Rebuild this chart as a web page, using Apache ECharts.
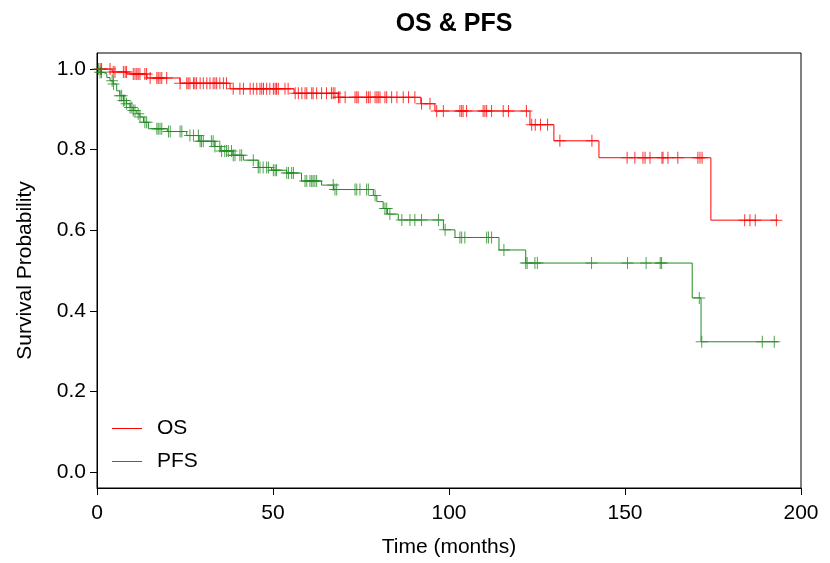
<!DOCTYPE html>
<html>
<head>
<meta charset="utf-8">
<script src="https://cdn.jsdelivr.net/npm/echarts@6/dist/echarts.min.js"></script>
<style>
html,body{margin:0;padding:0;background:#fff;}
#chart{width:830px;height:563px;}
</style>
</head>
<body>
<div id="chart"></div>
<script>
// ---- data ----
const osTime = [0, 4.3, 8.5, 14.2, 23.6, 37.8, 56, 68.5, 92, 96, 123, 129.8, 142.6, 174.4, 193.5];
const osSurv = [1, 0.993, 0.988, 0.978, 0.965, 0.951, 0.940, 0.930, 0.914, 0.896, 0.862, 0.822, 0.780, 0.625, 0.625];
const osCensor = [0.9,1.3,3.7,4.6,5.1,7.5,8,8.4,10.3,10.8,11.3,11.7,12.2,13.6,14.1,15.1,17,17.4,17.9,18.4,19.8,23.6,25.5,25.9,26.4,27.4,27.8,28.3,29.3,30.2,31.2,32.1,33,33.5,34,34.9,35.9,36.8,38.7,40.6,41.6,43.5,44.4,45.4,46.3,46.8,47.3,48.2,49.1,50.1,50.6,51,51.5,53.4,54.3,56.3,57.2,58.2,59.1,59.6,61,61.4,62.4,63.8,65.2,66.6,67.1,67.6,68.6,69,70.5,73.3,73.8,74.2,76.6,77.1,77.6,79,79.5,79.9,80.4,81.8,82.3,83.7,85.2,87,88.5,90.3,92.2,94.6,96.5,98.4,103.1,103.6,104,105,109.7,110.2,110.7,112.1,115.4,116.9,122,123.5,124.5,126,128,131.5,140.6,150.6,152.8,155.1,155.7,157.1,160.5,160.8,162.2,165,170.7,171.3,171.9,184,185.5,187,193];

const pfsTime = [0, 0.9, 1.8, 2.8, 3.7, 4.6, 5.6, 6.5, 7.5, 8.4, 9.4, 10.3, 11.3, 12.2, 13.2, 14.6, 20, 25.5, 29, 33.5, 35, 38.6, 41.6, 45.8, 49.6, 53.9, 58.1, 63.8, 67.2, 78.5, 79.5, 81.3, 82.5, 85.6, 98.4, 101.7, 114.2, 121.8, 169.1, 171.6, 193.5];
const pfsSurv = [1, 0.992, 0.988, 0.979, 0.971, 0.963, 0.946, 0.934, 0.922, 0.914, 0.905, 0.897, 0.889, 0.881, 0.868, 0.852, 0.845, 0.835, 0.821, 0.808, 0.797, 0.786, 0.774, 0.756, 0.749, 0.742, 0.722, 0.712, 0.701, 0.686, 0.671, 0.654, 0.640, 0.6255, 0.601, 0.582, 0.551, 0.5185, 0.432, 0.323, 0.323];
const pfsCensor = [0.4,0.9,1.3,4.3,4.7,6.5,7,7.5,7.9,8.4,9.4,9.9,10.3,10.8,11.7,12.2,13.6,14.1,17,17.4,17.9,18.4,20.3,20.8,23.6,24.1,26.4,27.4,28.8,29.3,29.7,30.2,32.5,33,33.5,34.9,35.4,36.3,36.8,37.3,38.2,38.7,39.2,40.6,41.1,44.4,45.8,46.3,47.2,48.2,48.7,50.1,50.6,51,53.9,54.4,55.3,55.8,59.1,59.6,60.5,61,61.4,61.9,62.4,67.1,67.6,68.1,73.3,73.8,74.7,76.6,77.1,79,81.8,82.3,83.2,86.6,88.9,90.3,92.2,97,98.9,103.1,103.6,104.5,110.7,111.2,112.1,115.6,121.8,122.2,124.4,125.1,140.5,150.7,156,160,160.4,171.1,171.8,189,192.4];

const seriesNames = ['OS', 'PFS'];
const xTicks = [0, 50, 100, 150, 200];
const yTicks = [0, 0.2, 0.4, 0.6, 0.8, 1.0];

// ---- helpers ----
function stepValue(times, surv, t) {
  let v = surv[0];
  for (let i = 0; i < times.length; i++) { if (times[i] <= t) v = surv[i]; else break; }
  return v;
}
function pairs(times, surv) { return times.map((t, i) => [t, surv[i]]); }
function censorPts(times, surv, cens) { return cens.map(t => [t, stepValue(times, surv, t)]); }

const RED = '#FF0000', GREEN = '#228B22';
const FONT = 'Liberation Sans, Arial, sans-serif';
const FS = 21;
const plus = 'path://M-0.5,-6 L0.5,-6 L0.5,6 L-0.5,6 Z M-6,-0.5 L6,-0.5 L6,0.5 L-6,0.5 Z';

const chart = echarts.init(document.getElementById('chart'), null, {renderer: 'canvas'});
chart.setOption({
  animation: false,
  backgroundColor: '#fff',
  title: {
    text: 'OS & PFS', left: 449, top: 7, textAlign: 'center',
    textStyle: {fontFamily: FONT, fontWeight: 'bold', fontSize: 25, color: '#000'}
  },
  grid: {left: 97, right: 29, top: 53, bottom: 73, show: true, borderColor: '#000', borderWidth: 1, backgroundColor: 'transparent'},
  legend: {
    data: seriesNames, orient: 'vertical', left: 107, top: 413, itemGap: 12,
    icon: 'rect', itemWidth: 30, itemHeight: 1,
    textStyle: {fontFamily: FONT, fontSize: FS, color: '#000', padding: [0, 0, 0, 10]}
  },
  xAxis: {
    type: 'value', min: 0, max: 200, interval: 50,
    name: 'Time (months)', nameLocation: 'middle', nameGap: 49,
    nameTextStyle: {fontFamily: FONT, fontSize: FS, color: '#000'},
    axisLine: {show: true, onZero: false, lineStyle: {color: '#000', width: 1}},
    axisTick: {show: true, length: 7, lineStyle: {color: '#000'}},
    axisLabel: {fontFamily: FONT, fontSize: FS, color: '#000', margin: 15, customValues: xTicks},
    splitLine: {show: false}
  },
  yAxis: {
    type: 'value', min: -0.04, max: 1.04,
    name: 'Survival Probability', nameLocation: 'middle', nameGap: 61,
    nameTextStyle: {fontFamily: FONT, fontSize: FS, color: '#000'},
    axisLine: {show: true, onZero: false, lineStyle: {color: '#000', width: 1}},
    axisTick: {show: true, length: 7, lineStyle: {color: '#000'}, customValues: yTicks},
    axisLabel: {fontFamily: FONT, fontSize: FS, color: '#000', margin: 11, customValues: yTicks,
      formatter: v => v.toFixed(1)},
    splitLine: {show: false}
  },
  series: [
    {name: 'OS', type: 'line', step: 'end', showSymbol: false, data: pairs(osTime, osSurv),
      lineStyle: {color: RED, width: 1}, itemStyle: {color: RED}, z: 3},
    {name: 'PFS', type: 'line', step: 'end', showSymbol: false, data: pairs(pfsTime, pfsSurv),
      lineStyle: {color: GREEN, width: 1}, itemStyle: {color: GREEN}, z: 3},
    {name: 'OS censor', type: 'scatter', symbol: plus, symbolSize: 12, data: censorPts(osTime, osSurv, osCensor),
      itemStyle: {color: RED}, z: 4},
    {name: 'PFS censor', type: 'scatter', symbol: plus, symbolSize: 12, data: censorPts(pfsTime, pfsSurv, pfsCensor),
      itemStyle: {color: GREEN}, z: 4}
  ]
});
</script>
</body>
</html>
